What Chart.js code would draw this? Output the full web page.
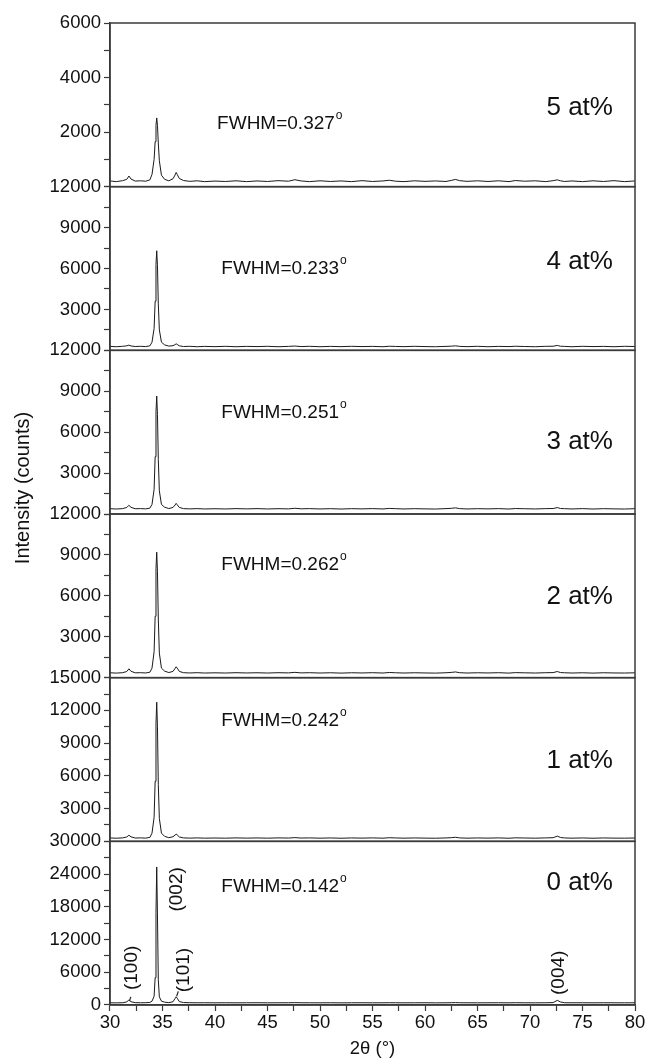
<!DOCTYPE html>
<html>
<head>
<meta charset="utf-8">
<script src="https://cdn.jsdelivr.net/npm/chart.js@4.4.0/dist/chart.umd.min.js"></script>
<style>
  html, body { margin: 0; padding: 0; background: #fff; }
  #wrap { width: 645px; height: 1061px; }
</style>
</head>
<body>
<div id="wrap"><canvas id="xrd" width="645" height="1061"></canvas></div>
<script>
// 2theta positions (deg), shared by all patterns
const twoTheta = [30, 30.6, 31.2, 31.6, 31.8, 32.0, 32.4, 32.9, 33.4, 33.8,
  34.0, 34.2, 34.3, 34.38, 34.45, 34.52, 34.6, 34.7, 34.9, 35.2,
  35.6, 36.0, 36.2, 36.3, 36.4, 36.6, 37.0, 37.6, 38.3, 39,
  40, 41, 42, 43, 44, 45, 46, 47, 47.6, 48.2,
  49, 50, 51, 52, 53, 54, 55, 56, 56.6, 57.2,
  58, 59, 60, 61, 62, 62.5, 62.9, 63.3, 64, 65,
  66, 67, 68, 68.6, 69.5, 70.5, 71.5, 72.2, 72.6, 72.9,
  73.3, 74, 75, 76, 77, 78, 79, 80];

// intensities (counts)
const int5at = [210, 185, 220, 270, 390, 280, 205, 215, 200, 250,
  450, 1000, 1650, 2250, 2520, 2250, 1600, 950, 420, 270,
  215, 290, 430, 520, 450, 300, 225, 195, 215, 185,
  205, 190, 215, 185, 210, 190, 220, 200, 255, 210,
  185, 215, 190, 210, 185, 220, 190, 210, 235, 200,
  185, 215, 195, 210, 190, 230, 265, 220, 195, 215,
  190, 215, 185, 225, 200, 215, 185, 220, 250, 215,
  190, 210, 185, 215, 190, 220, 185, 210];
const int4at = [290, 265, 295, 330, 380, 320, 280, 295, 275, 330,
  600, 1600, 3600, 6300, 7300, 6200, 3400, 1500, 600, 400,
  310, 340, 420, 480, 430, 330, 280, 295, 265, 290,
  270, 295, 265, 290, 275, 295, 265, 290, 315, 275,
  295, 265, 290, 270, 295, 275, 290, 265, 300, 285,
  270, 295, 275, 265, 290, 305, 330, 290, 270, 295,
  265, 290, 275, 300, 280, 265, 295, 300, 360, 300,
  290, 265, 295, 275, 290, 265, 295, 280];
const int3at = [390, 365, 395, 480, 640, 490, 385, 395, 375, 430,
  700, 1800, 4200, 7500, 8650, 7300, 4000, 1700, 700, 500,
  400, 480, 660, 780, 680, 480, 395, 375, 395, 370,
  385, 370, 395, 375, 395, 370, 390, 375, 420, 380,
  395, 370, 390, 365, 390, 375, 395, 370, 410, 390,
  370, 390, 375, 365, 395, 415, 450, 395, 370, 390,
  375, 395, 365, 400, 385, 370, 395, 400, 470, 405,
  390, 370, 395, 365, 390, 375, 365, 390];
const int2at = [360, 335, 365, 450, 650, 470, 355, 365, 345, 400,
  700, 1900, 4500, 8000, 9200, 7800, 4300, 1800, 700, 480,
  375, 460, 680, 800, 700, 460, 365, 345, 365, 340,
  355, 340, 365, 345, 360, 340, 365, 350, 390, 350,
  365, 340, 360, 335, 360, 345, 365, 340, 380, 360,
  340, 360, 345, 335, 360, 385, 420, 365, 340, 360,
  345, 365, 335, 370, 355, 340, 365, 370, 450, 375,
  360, 340, 360, 335, 360, 345, 340, 355];
const int1at = [310, 285, 315, 400, 560, 410, 305, 315, 295, 360,
  750, 2200, 5500, 10800, 12750, 10500, 5200, 2100, 750, 460,
  335, 420, 580, 660, 590, 400, 315, 295, 315, 290,
  305, 290, 315, 295, 310, 290, 315, 300, 340, 300,
  315, 290, 310, 285, 310, 295, 315, 290, 330, 310,
  290, 310, 295, 285, 310, 335, 370, 315, 290, 310,
  295, 315, 285, 320, 305, 290, 315, 330, 480, 355,
  310, 290, 310, 285, 310, 295, 290, 305];
const int0at = [400, 395, 410, 560, 950, 600, 430, 410, 420, 470,
  700, 1600, 5000, 17000, 25300, 16500, 4600, 1500, 700, 520,
  430, 600, 1200, 1500, 1250, 620, 450, 420, 405, 410,
  400, 410, 400, 405, 415, 400, 405, 410, 430, 410,
  405, 400, 410, 395, 405, 410, 400, 405, 420, 410,
  400, 405, 410, 395, 405, 420, 440, 415, 405, 400,
  405, 410, 400, 420, 405, 400, 410, 440, 850, 560,
  415, 405, 410, 400, 410, 405, 400, 405];

// panels from top to bottom
const samples = ['5 at%', '4 at%', '3 at%', '2 at%', '1 at%', '0 at%'];
const fwhmValues = ['0.327', '0.233', '0.251', '0.262', '0.242', '0.142'];
const series = [int5at, int4at, int3at, int2at, int1at, int0at];
const yMax = [6000, 12000, 12000, 12000, 15000, 30000];
const yStep = [2000, 3000, 3000, 3000, 3000, 6000];
const hklLabels = ['(100)', '(002)', '(101)', '(004)'];

const fontName = '"Liberation Sans", Arial, Helvetica, sans-serif';
const ink = '#111';
const frameColor = '#3a3a3a';

// where the texts sit, in data units of each panel
const textPos = [
  { fx: 40.2, fy: 2300, ly: 2900 },
  { fx: 40.6, fy: 6000, ly: 6500 },
  { fx: 40.6, fy: 7400, ly: 5300 },
  { fx: 40.6, fy: 8250, ly: 5900 },
  { fx: 40.6, fy: 11070, ly: 7400 },
  { fx: 40.6, fy: 21700, ly: 22450 }
];
const hklPos = [[32.1, 6800], [36.4, 21200], [37.0, 6400], [72.7, 5900]];

let scales = {
  x: {
    type: 'linear',
    position: 'bottom',
    min: 30,
    max: 80,
    afterFit: (s) => { s.height = 56; s.paddingLeft = 0; s.paddingRight = 0; },
    ticks: {
      stepSize: 2.5,
      autoSkip: false,
      maxRotation: 0,
      padding: 1,
      color: ink,
      font: { family: fontName, size: 18.5 },
      callback: (v) => (v % 5 === 0 ? v : '')
    },
    grid: { drawOnChartArea: false, tickLength: 6, color: frameColor, tickWidth: 1.2 },
    border: { color: frameColor, width: 1.5 },
    title: {
      display: true,
      text: '2θ (°)',
      color: ink,
      font: { family: fontName, size: 18.5 },
      padding: { top: 0, bottom: 1 }
    }
  }
};

let datasets = [];
samples.forEach((name, i) => {
  scales['y' + i] = {
    type: 'linear',
    position: 'left',
    stack: 'xrd',
    stackWeight: 1,
    weight: 6 - i,
    min: 0,
    max: yMax[i],
    afterFit: (s) => { s.width = 110; },
    ticks: {
      stepSize: yStep[i] / 2,
      autoSkip: false,
      padding: 3,
      color: ink,
      font: { family: fontName, size: 18.5 },
      callback: (v) => (v % yStep[i] === 0 && (v !== 0 || i === samples.length - 1)) ? v : ''
    },
    grid: { drawOnChartArea: false, tickLength: 6, color: frameColor, tickWidth: 1.2 },
    border: { color: frameColor, width: 1.5 }
  };
  datasets.push({
    label: name,
    yAxisID: 'y' + i,
    data: twoTheta.map((t, k) => ({ x: t, y: series[i][k] })),
    borderColor: '#1a1a1a',
    borderWidth: 1,
    pointRadius: 0,
    tension: 0,
    fill: false
  });
});

const panelText = {
  id: 'panelText',
  afterDraw(chart) {
    const ctx = chart.ctx;
    const xs = chart.scales.x;
    ctx.save();
    ctx.strokeStyle = frameColor;
    ctx.lineWidth = 1.5;
    ctx.fillStyle = ink;
    samples.forEach((name, i) => {
      const ys = chart.scales['y' + i];
      ctx.strokeRect(xs.left, ys.top, xs.right - xs.left, ys.bottom - ys.top);

      // FWHM text with superscript o
      const fx = xs.getPixelForValue(textPos[i].fx);
      const fy = ys.getPixelForValue(textPos[i].fy);
      ctx.font = '19px ' + fontName;
      ctx.textAlign = 'left';
      ctx.textBaseline = 'middle';
      const main = 'FWHM=' + fwhmValues[i];
      ctx.fillText(main, fx, fy);
      const w = ctx.measureText(main).width;
      ctx.font = '12px ' + fontName;
      ctx.fillText('o', fx + w + 1, fy - 8);

      // sample label
      ctx.font = '26px ' + fontName;
      ctx.textAlign = 'right';
      ctx.fillText(name, xs.getPixelForValue(77.9), ys.getPixelForValue(textPos[i].ly));
    });

    // hkl labels in the bottom panel
    const yb = chart.scales['y' + (samples.length - 1)];
    ctx.font = '19px ' + fontName;
    ctx.textAlign = 'center';
    ctx.textBaseline = 'middle';
    hklLabels.forEach((lab, k) => {
      ctx.save();
      ctx.translate(xs.getPixelForValue(hklPos[k][0]), yb.getPixelForValue(hklPos[k][1]));
      ctx.rotate(-Math.PI / 2);
      ctx.fillText(lab, 0, 0);
      ctx.restore();
    });
    // little leader marks for (100) and (101)
    ctx.lineWidth = 1.2;
    ctx.strokeStyle = '#222';
    [[31.85, 700, 31.98, 1500], [36.35, 1600, 36.5, 2500]].forEach((m) => {
      ctx.beginPath();
      ctx.moveTo(xs.getPixelForValue(m[0]), yb.getPixelForValue(m[1]));
      ctx.lineTo(xs.getPixelForValue(m[2]), yb.getPixelForValue(m[3]));
      ctx.stroke();
    });

    // y axis title
    const area = chart.chartArea;
    ctx.save();
    ctx.translate(23, (area.top + area.bottom) / 2 - 26);
    ctx.rotate(-Math.PI / 2);
    ctx.font = '20px ' + fontName;
    ctx.textAlign = 'center';
    ctx.textBaseline = 'middle';
    ctx.fillText('Intensity (counts)', 0, 0);
    ctx.restore();

    ctx.restore();
  }
};

const chart = new Chart(document.getElementById('xrd').getContext('2d'), {
  type: 'line',
  data: { datasets: datasets },
  options: {
    responsive: false,
    animation: false,
    layout: { padding: { top: 23, right: 10, bottom: 0, left: 0 } },
    plugins: { legend: { display: false }, tooltip: { enabled: false } },
    scales: scales
  },
  plugins: [panelText]
});
</script>
</body>
</html>
